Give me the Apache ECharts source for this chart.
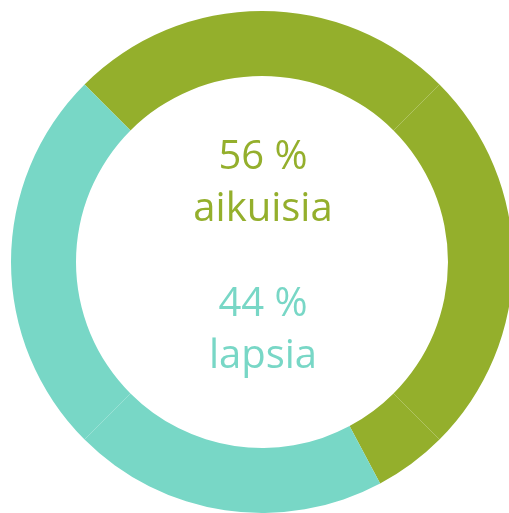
<!DOCTYPE html>
<html>
<head>
<meta charset="utf-8">
<script src="https://cdn.jsdelivr.net/npm/echarts@6/dist/echarts.min.js"></script>
<style>html,body{margin:0;padding:0;background:#fff;}#c{width:509px;height:513px;}</style>
</head>
<body>
<div id="c"></div>
<script>
// Ring segments (percent of the ring, clockwise from top-left)
var segmentGroups = ['aikuisia', 'aikuisia', 'aikuisia', 'lapsia', 'lapsia'];
var segmentValues = [25, 25, 4.7, 20.3, 25];
// Centre labels
var shareLabels = ['56 %', '44 %'];
var groupNames = ['aikuisia', 'lapsia'];
var groupColors = {aikuisia: '#94AF2C', lapsia: '#78D7C6'};

var chart = echarts.init(document.getElementById('c'));
var data = segmentValues.map(function (v, i) {
  return {value: v, name: segmentGroups[i] + i, itemStyle: {color: groupColors[segmentGroups[i]]}};
});
var font = '"Open Sans", "Noto Sans", sans-serif';
function txt(t, y, color) {
  return {type: 'text', x: 263, y: y, style: {text: t, fill: color, font: '40px ' + font, textAlign: 'center', textVerticalAlign: 'bottom'}};
}
chart.setOption({
  animation: false,
  series: [{
    type: 'pie',
    center: [262, 262],
    radius: [186, 251],
    startAngle: 135,
    clockwise: true,
    silent: true,
    label: {show: false},
    labelLine: {show: false},
    itemStyle: {borderWidth: 0},
    emphasis: {disabled: true},
    data: data
  }],
  graphic: [
    txt(shareLabels[0], 178, groupColors.aikuisia),
    txt(groupNames[0], 230, groupColors.aikuisia),
    txt(shareLabels[1], 325, groupColors.lapsia),
    txt(groupNames[1], 377, groupColors.lapsia)
  ]
});
</script>
</body>
</html>
